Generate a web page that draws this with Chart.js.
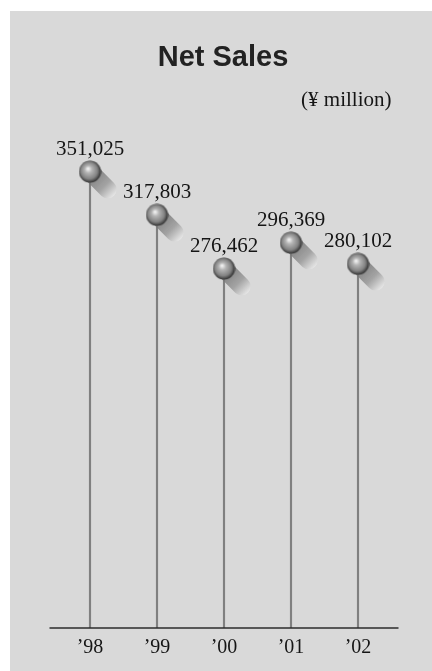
<!DOCTYPE html>
<html>
<head>
<meta charset="utf-8">
<script src="https://cdn.jsdelivr.net/npm/chart.js@4/dist/chart.umd.min.js"></script>
<style>
  html, body { margin: 0; padding: 0; background: #fff; }
  #panel { position: absolute; left: 10px; top: 11px; width: 422px; height: 660px; background: #d9d9d9; }
  #chart { display: block; }
</style>
</head>
<body>
<div id="panel"><canvas id="chart" width="422" height="660"></canvas></div>
<script>
const TITLE = "Net Sales";
const UNIT = "(\u00a5 million)";
const YEARS = ["\u201998", "\u201999", "\u201900", "\u201901", "\u201902"];
const NET_SALES = [351025, 317803, 276462, 296369, 280102];
const Y_MAX = 400000;

const serif = "'Liberation Serif', 'Times New Roman', serif";
const sans = "'Liberation Sans', Arial, sans-serif";

// shiny ball used as the point marker
function makeBall(r) {
  const c = document.createElement("canvas");
  c.width = c.height = r * 2 + 1;
  const ctx = c.getContext("2d");
  const g = ctx.createRadialGradient(r - 1.5, r - 2.5, 0.5, r, r, r);
  g.addColorStop(0, "#f2f2f2");
  g.addColorStop(0.3, "#b4b4b4");
  g.addColorStop(0.75, "#828282");
  g.addColorStop(1, "#3c3c3c");
  ctx.fillStyle = g;
  ctx.beginPath();
  ctx.arc(r + 0.5, r + 0.5, r, 0, Math.PI * 2);
  ctx.fill();
  return c;
}
const ball = makeBall(11);

const decorPlugin = {
  id: "decor",
  beforeDatasetDraw(chart, args) {
    if (args.index !== 1) return;
    // smeared shadow going down-right from each ball
    const ctx = chart.ctx;
    const meta = chart.getDatasetMeta(1);
    meta.data.forEach((pt) => {
      ctx.save();
      ctx.translate(pt.x, pt.y);
      ctx.rotate(Math.PI / 4);
      const g = ctx.createLinearGradient(0, 0, 34, 0);
      g.addColorStop(0, "rgba(100,100,100,0.85)");
      g.addColorStop(0.6, "rgba(140,140,140,0.7)");
      g.addColorStop(1, "rgba(235,235,235,0.7)");
      ctx.fillStyle = g;
      ctx.beginPath();
      ctx.moveTo(0, -9);
      ctx.lineTo(25, -9);
      ctx.arc(25, 0, 9, -Math.PI / 2, Math.PI / 2);
      ctx.lineTo(0, 9);
      ctx.closePath();
      ctx.fill();
      ctx.restore();
    });
  },
  afterDatasetsDraw(chart) {
    const ctx = chart.ctx;
    const area = chart.chartArea;
    const y0 = chart.scales.y.getPixelForValue(0);
    ctx.save();
    // base line
    ctx.strokeStyle = "#2b2b2b";
    ctx.lineWidth = 1.5;
    ctx.beginPath();
    ctx.moveTo(area.left - 7, y0);
    ctx.lineTo(area.right + 7, y0);
    ctx.stroke();
    // value labels
    ctx.fillStyle = "#151515";
    ctx.font = "21px " + serif;
    ctx.textAlign = "center";
    ctx.textBaseline = "alphabetic";
    chart.getDatasetMeta(1).data.forEach((pt, i) => {
      ctx.fillText(NET_SALES[i].toLocaleString("en-US"), pt.x, pt.y - 17);
    });
    // title and unit
    ctx.font = "bold 29px " + sans;
    ctx.fillStyle = "#222";
    ctx.fillText(TITLE, chart.width / 2 + 2, 55);
    ctx.fillStyle = "#151515";
    ctx.font = "21px " + serif;
    ctx.textAlign = "right";
    ctx.fillText(UNIT, area.right, 95);
    ctx.restore();
  },
};

new Chart(document.getElementById("chart"), {
  data: {
    labels: YEARS,
    datasets: [
      {
        type: "bar",
        data: NET_SALES,
        backgroundColor: "#808080",
        barThickness: 1.5,
        order: 2,
      },
      {
        type: "line",
        data: NET_SALES,
        showLine: false,
        pointStyle: ball,
        pointRadius: 11,
        order: 1,
      },
    ],
  },
  options: {
    responsive: false,
    animation: false,
    layout: { padding: { top: 97, left: 46.5, right: 40.5, bottom: 3 } },
    plugins: {
      legend: { display: false },
      tooltip: { enabled: false },
      title: { display: false },
    },
    scales: {
      x: {
        grid: { display: false, drawTicks: false },
        border: { display: false },
        ticks: {
          color: "#151515",
          font: { family: serif, size: 20 },
          padding: 8,
        },
      },
      y: {
        display: false,
        min: 0,
        max: Y_MAX,
      },
    },
  },
  plugins: [decorPlugin],
});
</script>
</body>
</html>
